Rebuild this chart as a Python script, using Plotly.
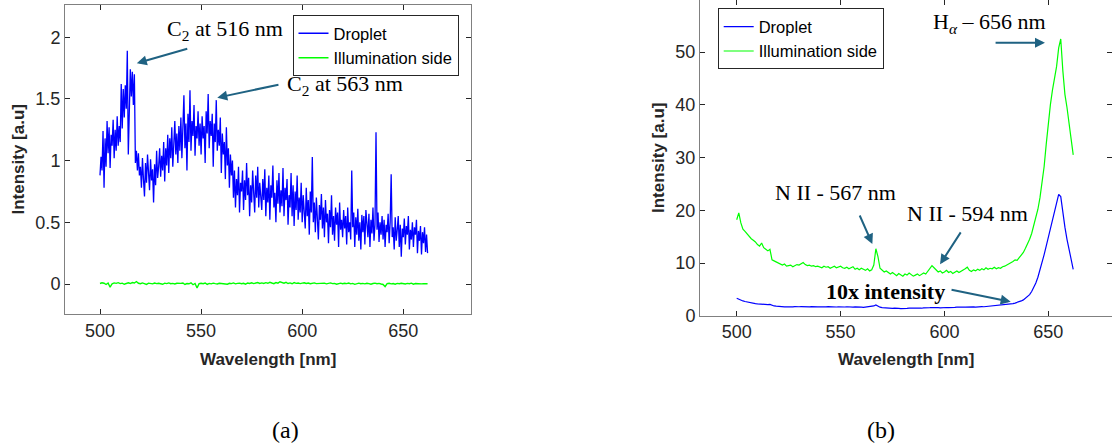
import numpy as np
import plotly.graph_objects as go

# ---------------- data ----------------
# panel (a): 0.5 nm sampling for droplet, 1 nm for illumination side
wl_a_drop = np.arange(500, 662.01, 0.5)
drop_a = [
    0.88, 1.03, 0.92, 1.24, 0.78, 1.18, 0.95, 1.32, 1.06, 1.27, 0.94, 1.21, 1.12, 1.33, 1.02, 1.25, 1.08, 1.36, 1.12, 1.28,
    1.15, 1.62, 1.26, 1.58, 1.35, 1.61, 1.42, 1.89, 1.05, 1.48, 1.74, 1.52, 1.72, 1.45, 1.70, 0.98, 1.08, 0.92, 1.06, 0.88,
    0.95, 0.78, 1.02, 0.85, 0.71, 0.98, 0.82, 1.05, 0.88, 0.76, 1.01, 0.84, 0.93, 0.66, 0.97, 0.80, 1.08, 0.86, 0.95, 1.10,
    0.87, 1.04, 0.92, 1.15, 0.83, 1.10, 0.96, 1.21, 0.90, 1.18, 1.02, 1.27, 0.95, 1.12, 1.32, 1.05, 1.22, 0.98, 1.28, 1.08,
    1.35, 1.02, 1.25, 1.53, 1.10, 1.30, 0.92, 1.38, 1.15, 1.57, 1.08, 1.32, 1.20, 1.45, 1.04, 1.28, 1.18, 1.40, 1.12, 1.30,
    1.05, 1.36, 1.18, 1.28, 0.98, 1.40, 1.22, 1.54, 1.10, 1.32, 1.20, 1.38, 0.95, 1.30, 1.15, 1.49, 1.08, 1.25, 1.12, 1.35,
    0.90, 1.22, 1.05, 1.15, 0.85, 1.27, 0.96, 1.10, 0.78, 1.05, 0.88, 1.00, 0.70, 0.92, 0.62, 0.85, 0.72, 0.95, 0.58, 0.82,
    0.75, 0.92, 0.60, 0.84, 0.68, 0.98, 0.72, 0.86, 0.55, 0.80, 0.66, 0.92, 0.74, 0.58, 0.88, 0.70, 0.95, 0.62, 0.82, 0.71,
    0.60, 0.85, 0.68, 0.93, 0.55, 0.78, 0.66, 0.88, 0.52, 0.80, 0.70, 0.96, 0.62, 0.74, 0.50, 0.84, 0.65, 0.90, 0.58, 0.76,
    0.63, 0.94, 0.55, 0.78, 0.68, 0.85, 0.48, 0.72, 0.62, 0.90, 0.55, 0.80, 0.47, 0.75, 0.60, 0.88, 0.52, 0.70, 0.58, 0.82,
    0.50, 0.72, 0.62, 0.45, 0.78, 0.55, 0.68, 0.40, 0.75, 0.58, 1.03, 0.50, 0.66, 0.42, 0.70, 0.55, 0.36, 0.64, 0.52, 0.73,
    0.45, 0.62, 0.38, 0.68, 0.50, 0.57, 0.33, 0.60, 0.46, 0.72, 0.40, 0.55, 0.35, 0.62, 0.48, 0.58, 0.30, 0.66, 0.44, 0.52,
    0.38, 0.60, 0.45, 0.55, 0.32, 0.62, 0.42, 0.50, 0.36, 0.92, 0.46, 0.58, 0.30, 0.54, 0.40, 0.61, 0.35, 0.50, 0.28, 0.56,
    0.42, 0.55, 0.32, 0.60, 0.45, 0.38, 0.57, 0.30, 0.52, 0.41, 0.62, 0.35, 0.48, 1.23, 0.44, 0.58, 0.34, 0.50, 0.40, 0.55,
    0.36, 0.52, 0.30, 0.48, 0.42, 0.57, 0.33, 0.50, 0.89, 0.38, 0.46, 0.28, 0.54, 0.35, 0.44, 0.55, 0.30, 0.48, 0.22, 0.45,
    0.38, 0.53, 0.32, 0.47, 0.40, 0.55, 0.28, 0.44, 0.36, 0.50, 0.30, 0.46, 0.40, 0.52, 0.25, 0.43, 0.35, 0.47, 0.24, 0.42,
    0.33, 0.46, 0.26, 0.40, 0.25,
]

wl_1nm = np.arange(500, 663, 1)
illum_a = [
    0.004, 0.010, 0.006, -0.004, 0.008, -0.026, 0.002, 0.009, 0.005, 0.011,
    0.003, 0.007, -0.002, 0.006, 0.010, 0.004, 0.012, 0.008, 0.020, 0.006,
    0.002, 0.009, 0.004, -0.003, 0.007, 0.005, 0.001, 0.008, 0.003, 0.006,
    0.004, -0.002, 0.007, 0.003, 0.009, 0.002, 0.005, 0.000, 0.006, 0.003,
    0.005, 0.008, -0.004, 0.004, 0.002, 0.010, -0.006, 0.004, -0.032, 0.003,
    0.006, 0.002, 0.008, -0.003, 0.005, 0.001, 0.007, 0.003, 0.000, 0.006,
    0.004, 0.008, 0.002, -0.002, 0.006, 0.003, 0.009, 0.001, 0.005, 0.007,
    0.002, 0.006, -0.001, 0.008, 0.004, 0.010, 0.003, 0.007, 0.012, 0.005,
    0.009, 0.004, 0.011, 0.006, 0.014, 0.008, 0.003, 0.012, 0.007, 0.018,
    0.010, 0.006, 0.013, 0.004, 0.009, 0.002, 0.011, 0.005, 0.008, 0.003,
    0.007, 0.010, 0.004, 0.008, 0.002, 0.006, 0.009, 0.003, 0.005, 0.008,
    0.004, 0.007, 0.001, 0.006, 0.009, 0.003, 0.005, -0.002, 0.004, 0.007,
    0.002, 0.006, 0.003, 0.008, 0.001, 0.005, -0.003, 0.004, 0.007, 0.002,
    0.005, 0.001, 0.006, 0.003, -0.002, 0.004, 0.007, 0.002, 0.005, 0.000,
    -0.004, -0.022, 0.003, 0.006, 0.001, 0.004, -0.002, 0.005, 0.002, 0.006,
    0.003, 0.000, 0.005, 0.002, 0.007, -0.001, 0.004, 0.002, 0.006, 0.001,
    0.003, 0.000, 0.002,
]

# panel (b): 1 nm sampling
drop_b = [
    3.3, 3.1, 2.9, 2.8, 2.7, 2.6, 2.5, 2.4, 2.35, 2.3,
    2.25, 2.2, 2.2, 2.15, 2.1, 2.1, 2.15, 1.95, 1.85, 1.8,
    1.75, 1.7, 1.72, 1.68, 1.7, 1.66, 1.7, 1.67, 1.72, 1.68,
    1.7, 1.74, 1.7, 1.66, 1.7, 1.68, 1.72, 1.67, 1.7, 1.66,
    1.68, 1.65, 1.7, 1.66, 1.72, 1.68, 1.66, 1.7, 1.65, 1.68,
    1.64, 1.68, 1.65, 1.7, 1.64, 1.66, 1.62, 1.66, 1.6, 1.64,
    1.62, 1.58, 1.62, 1.6, 1.64, 1.7, 1.85, 2.05, 1.8, 1.62,
    1.55, 1.5, 1.52, 1.46, 1.42, 1.38, 1.44, 1.35, 1.4, 1.36,
    1.42, 1.38, 1.4, 1.44, 1.38, 1.42, 1.45, 1.4, 1.46, 1.42,
    1.48, 1.45, 1.5, 1.52, 1.56, 1.5, 1.48, 1.52, 1.5, 1.55,
    1.52, 1.56, 1.54, 1.6, 1.56, 1.58, 1.62, 1.58, 1.6, 1.64,
    1.62, 1.66, 1.62, 1.65, 1.68, 1.64, 1.7, 1.68, 1.72, 1.7,
    1.74, 1.76, 1.8, 1.82, 1.85, 1.88, 1.92, 1.95, 2.0, 2.05,
    2.1, 2.15, 2.2, 2.3, 2.4, 2.5, 2.65, 2.8, 3.0, 3.3,
    3.6, 4.0, 4.6, 5.3, 6.2, 7.3, 8.6, 10.0, 11.6, 13.2,
    14.8, 16.5, 18.0, 19.8, 21.4, 23.0, 22.6, 19.5, 16.8, 14.5,
    12.5, 10.5, 8.8,
]
illum_b = [
    18.2, 19.5, 17.6, 16.4, 16.0, 15.5, 15.2, 14.6, 14.3, 14.0,
    13.5, 13.2, 13.8, 12.9, 12.6, 12.3, 12.6, 10.6, 10.4, 10.2,
    10.0, 9.9, 9.6, 9.8, 9.4, 9.5, 9.6, 9.3, 9.5, 9.7,
    9.6, 9.9, 10.1, 9.7, 9.5, 9.6, 9.4, 9.5, 9.3, 9.4,
    9.3, 9.1, 9.4, 9.2, 9.3, 9.0, 9.2, 9.4, 9.1, 9.3,
    9.4, 9.1, 9.0, 9.2, 8.9, 9.1, 9.3, 8.8, 9.0, 8.7,
    9.0, 8.8, 8.6, 8.9, 8.5, 8.7, 9.6, 12.7, 11.2, 9.0,
    8.6, 8.3, 8.5, 8.1, 7.9, 8.2, 7.8, 7.6, 8.0, 7.8,
    7.5, 7.9, 7.7, 8.1, 7.8, 7.5, 7.7, 7.9, 7.6, 7.8,
    8.1, 7.9, 8.4, 9.0, 9.5, 9.1, 8.6, 8.3, 8.5, 8.1,
    8.3, 8.6, 8.2, 8.4, 8.0, 8.3, 8.5, 8.2, 8.4, 8.6,
    8.9, 9.2, 8.6, 8.4, 8.7, 8.5, 8.8, 8.6, 8.9, 8.7,
    9.1, 8.8, 9.0, 8.9, 9.2, 8.9, 9.1, 9.0, 9.3, 9.4,
    9.6, 9.8, 10.1, 10.3, 10.6, 10.5, 11.0, 11.5, 12.0, 12.8,
    13.6, 14.5, 15.6, 17.0, 18.4, 20.2, 22.4, 25.0, 28.3, 32.5,
    36.5, 40.0, 42.8, 45.0, 47.3, 50.8, 52.5, 46.5, 42.0, 39.5,
    36.0, 33.5, 30.5,
]

x_ticks = [500, 550, 600, 650]
y_ticks_a = [0, 0.5, 1, 1.5, 2]
y_ticktext_a = ["0", "0.5", "1", "1.5", "2"]
y_ticks_b = [0, 10, 20, 30, 40, 50]

BLUE = "#0000ff"
GREEN = "#00ff00"
ARROW = "#1f6282"
AXC = "#262626"
BOX = "#808080"
SANS = "Liberation Sans, Arial, sans-serif"
SERIF = "Liberation Serif, Times New Roman, serif"

W, H = 1112, 448

fig = go.Figure()
fig.add_trace(go.Scatter(x=wl_a_drop[:len(drop_a)], y=drop_a, mode="lines", name="Droplet",
                         line=dict(color=BLUE, width=1.3), xaxis="x", yaxis="y", legend="legend"))
fig.add_trace(go.Scatter(x=wl_1nm[:len(illum_a)], y=illum_a, mode="lines", name="Illumination side",
                         line=dict(color=GREEN, width=1.4), xaxis="x", yaxis="y", legend="legend"))
fig.add_trace(go.Scatter(x=wl_1nm[:len(drop_b)], y=drop_b, mode="lines", name="Droplet",
                         line=dict(color=BLUE, width=1.2), xaxis="x2", yaxis="y2", legend="legend2"))
fig.add_trace(go.Scatter(x=wl_1nm[:len(illum_b)], y=illum_b, mode="lines", name="Illumination side",
                         line=dict(color=GREEN, width=1.2), xaxis="x2", yaxis="y2", legend="legend2"))

tickfont = dict(family=SANS, size=18, color=AXC)
common_x = dict(tickvals=x_ticks, ticks="inside", ticklen=5, tickcolor=AXC, showline=True,
                linecolor=BOX, linewidth=1, mirror="ticks", showgrid=False, zeroline=False,
                tickfont=tickfont, automargin=False)
common_y = dict(ticks="inside", ticklen=5, tickcolor=AXC, showline=True, linecolor=BOX,
                linewidth=1, mirror="ticks", showgrid=False, zeroline=False, tickfont=tickfont,
                automargin=False)

legend_common = dict(xanchor="left", yanchor="top", bgcolor="white", bordercolor=AXC, borderwidth=1,
                     font=dict(family=SANS, size=16.5, color="black"))

fig.update_layout(
    template="none",
    width=W, height=H, margin=dict(l=0, r=0, t=0, b=0, pad=0),
    paper_bgcolor="white", plot_bgcolor="white",
    xaxis=dict(domain=[65 / W, 471 / W], range=[482.69, 683.48], anchor="y", **common_x),
    yaxis=dict(domain=[1 - 314 / H, 1 - 5 / H], range=[-0.2431, 2.261], anchor="x",
               tickvals=y_ticks_a, ticktext=y_ticktext_a, **common_y),
    xaxis2=dict(domain=[700 / W, 1.0], range=[482.33, 680.67], anchor="y2", **common_x),
    yaxis2=dict(domain=[1 - 315.7 / H, 1.0], range=[0, 59.9], anchor="x2",
                tickvals=y_ticks_b, **common_y),
    legend=dict(x=292.5 / W, y=1 - 15 / H, **legend_common),
    legend2=dict(x=717.7 / W, y=1 - 8.3 / H, **legend_common),
    showlegend=True,
)

ann = []
# axis titles and panel labels (paper coordinates)
for xp, yp in [(18, 159.5), (658, 158)]:
    ann.append(dict(text="<b>Intensity [a.u]</b>", xref="paper", yref="paper", x=xp / W, y=1 - yp / H,
                    textangle=-90, showarrow=False, font=dict(family=SANS, size=17, color=AXC),
                    xanchor="center", yanchor="middle"))
for xp in [268, 906]:
    ann.append(dict(text="<b>Wavelength [nm]</b>", xref="paper", yref="paper", x=xp / W, y=1 - 359 / H,
                    showarrow=False, font=dict(family=SANS, size=17, color=AXC),
                    xanchor="center", yanchor="middle"))
for xp, lab in [(285, "(a)"), (880.7, "(b)")]:
    ann.append(dict(text=lab, xref="paper", yref="paper", x=xp / W, y=1 - 430 / H,
                    showarrow=False, font=dict(family=SERIF, size=24, color="black"),
                    xanchor="center", yanchor="middle"))

# text labels in data coordinates
labels = [
    ("x", "y", 561.8, 2.058, "C<sub>2</sub> at 516 nm"),
    ("x", "y", 621.2, 1.613, "C<sub>2</sub> at 563 nm"),
    ("x2", "y2", 621.8, 55.5, "H<sub><i>α</i></sub> – 656 nm"),
    ("x2", "y2", 547.6, 23.3, "N II - 567 nm"),
    ("x2", "y2", 610.9, 19.3, "N II - 594 nm"),
    ("x2", "y2", 571.6, 4.6, "<b>10x intensity</b>"),
]
for xr, yr, xv, yv, t in labels:
    ann.append(dict(text=t, xref=xr, yref=yr, x=xv, y=yv, showarrow=False,
                    font=dict(family=SERIF, size=22, color="black"),
                    xanchor="center", yanchor="middle"))

# arrows (tail -> head) in data coordinates
arrows = [
    ("x", "y", 543.9, 1.91, 518.2, 1.789),
    ("x", "y", 589.0, 1.618, 558.0, 1.51),
    ("x2", "y2", 623.9, 51.8, 648.4, 51.8),
    ("x2", "y2", 558.9, 19.3, 565.3, 13.6),
    ("x2", "y2", 608.3, 16.1, 597.9, 9.75),
    ("x2", "y2", 602.7, 5.0, 631.9, 2.66),
]
for xr, yr, tx, ty, hx, hy in arrows:
    ann.append(dict(text="", xref=xr, yref=yr, x=hx, y=hy, axref=xr, ayref=yr, ax=tx, ay=ty,
                    showarrow=True, arrowhead=2, arrowsize=1, arrowwidth=2, arrowcolor=ARROW,
                    standoff=0, startstandoff=0))

fig.update_layout(annotations=ann)
fig.write_html("out.html", config={"displayModeBar": False},
               post_script="document.body.style.margin='0';document.body.style.overflow='hidden';")
